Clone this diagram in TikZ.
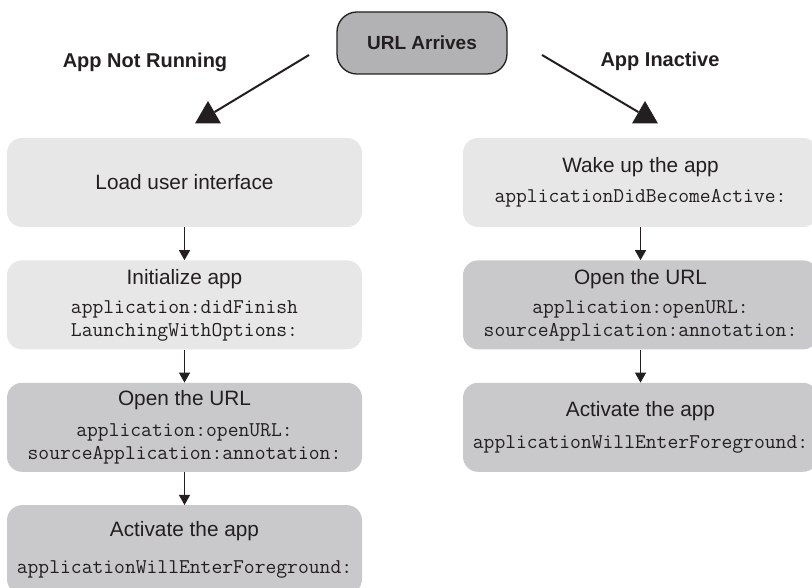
\documentclass[tikz,border=0pt]{standalone}
\usepackage{fontspec}
\setmainfont{Liberation Sans}
\usetikzlibrary{shapes.geometric,arrows.meta,positioning}
\definecolor{stepLight}{RGB}{231,231,232}
\definecolor{stepDark}{RGB}{201,201,203}
\definecolor{urlGray}{RGB}{178,178,180}
\definecolor{inkBlack}{RGB}{35,31,32}
\tikzset{
    stepbox/.style={rectangle, rounded corners=15pt, inner sep=0pt,
        minimum width=355pt, minimum height=89pt, align=center,
        font=\fontsize{20.8}{22.5}\selectfont, text=inkBlack},
    lightbox/.style={stepbox, fill=stepLight},
    darkbox/.style={stepbox, fill=stepDark},
    startbox/.style={rectangle, rounded corners=20pt, draw=inkBlack, line width=1.3pt,
        fill=urlGray, minimum width=170pt, minimum height=62pt,
        font=\fontsize{19}{22}\selectfont\bfseries, text=inkBlack},
    caselabel/.style={font=\fontsize{20}{24}\selectfont\bfseries, text=inkBlack},
    tipmark/.style={regular polygon, regular polygon sides=3, fill=inkBlack,
        inner sep=0pt, minimum size=30pt},
    link/.style={line width=2pt, inkBlack},
    arr/.style={-{Triangle[length=10pt,width=11pt]}, line width=1.2pt, inkBlack},
}
\newcommand{\callname}[1]{{\fontsize{21}{22.5}\selectfont\ttfamily #1}}

\begin{document}
\begin{tikzpicture}[x=1pt, y=1pt, node distance=33pt]
\useasboundingbox (0,0) rectangle (812,588);
\clip (0,0) rectangle (812,588);

% Start
\node[startbox] (url) at (422,545) {URL Arrives};

% Case labels
\node[caselabel] (notrunning) at (145,526) {App Not Running};
\node[caselabel] (inactive) at (660,527) {App Inactive};

% Branch tips
\node[tipmark] (tipL) at (208,472) {};
\node[tipmark] (tipR) at (645,472) {};
\coordinate (startL) at (309,533);
\coordinate (startR) at (542,533);

% Left column: app not running
\node[lightbox] (load) at (184.5,405.5) {Load user interface};
\node[lightbox, below=of load] (init)
    {Initialize app\\[7pt]\callname{application:didFinish}\\\callname{LaunchingWithOptions:}};
\node[darkbox, below=of init] (openL)
    {Open the URL\\[9pt]\callname{application:openURL:}\\\callname{sourceApplication:annotation:}};
\node[darkbox, below=of openL] (activeL)
    {Activate the app\\[15pt]\callname{applicationWillEnterForeground:}};

% Right column: app inactive
\node[lightbox] (wake) at (640.5,405.5)
    {Wake up the app\\[7pt]\callname{applicationDidBecomeActive:}};
\node[darkbox, below=of wake] (openR)
    {Open the URL\\[7pt]\callname{application:openURL:}\\\callname{sourceApplication:annotation:}};
\node[darkbox, below=of openR] (activeR)
    {Activate the app\\[9pt]\callname{applicationWillEnterForeground:}};

% Branches
\draw[link] (startL) -- (tipL);
\draw[link] (startR) -- (tipR);

% Steps
\draw[arr] (load) -- (init);
\draw[arr] (init) -- (openL);
\draw[arr] (openL) -- (activeL);
\draw[arr] (wake) -- (openR);
\draw[arr] (openR) -- (activeR);

\end{tikzpicture}
\end{document}
